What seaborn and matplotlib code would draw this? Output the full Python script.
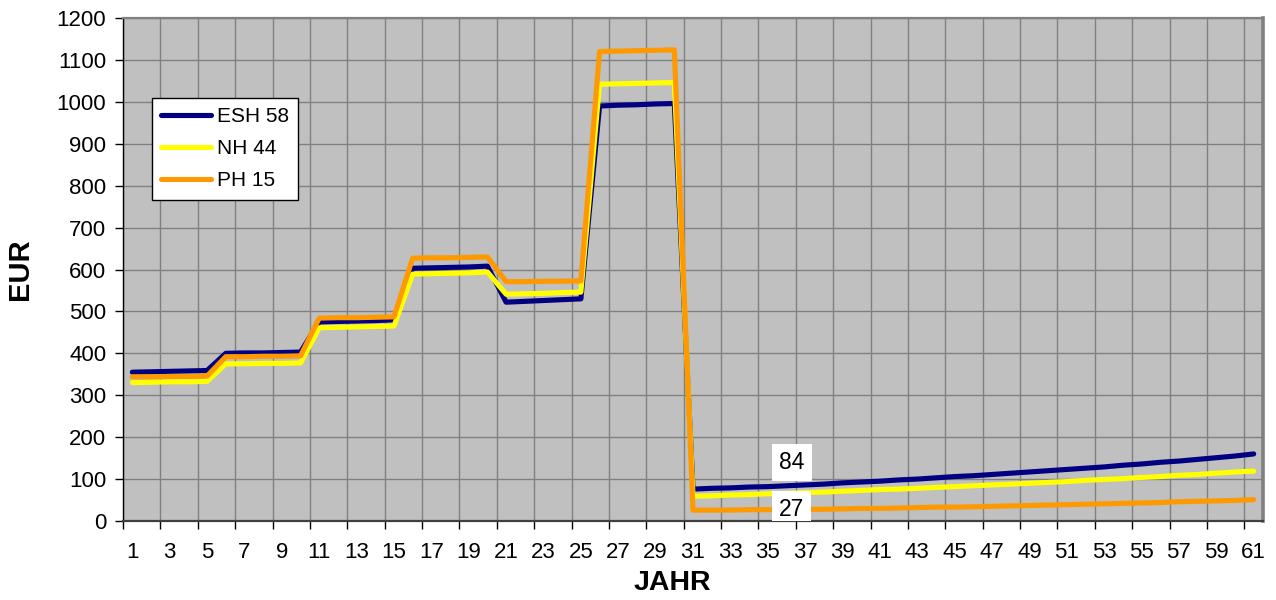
import matplotlib
matplotlib.use("Agg")
import matplotlib.pyplot as plt
from matplotlib.lines import Line2D
import pandas as pd
import seaborn as sns

# ---------------- data ----------------
years = list(range(1, 62))
series_names = ["ESH 58", "NH 44", "PH 15"]
series_colors = ["#000080", "#FFFF00", "#FF9900"]

esh = [355, 356, 357, 358, 359, 400, 401, 401, 402, 403,
       475, 476, 477, 478, 480, 603, 604, 605, 606, 608,
       522, 524, 526, 528, 530, 990, 992, 993, 995, 996,
       76, 78, 79, 81, 82, 84, 86, 88, 91, 93,
       95, 98, 100, 103, 106, 108, 111, 114, 117, 120,
       123, 126, 129, 133, 136, 140, 143, 147, 151, 155, 160]
nh = [330, 331, 332, 332, 333, 375, 375, 376, 376, 377,
      461, 462, 463, 464, 465, 589, 590, 591, 592, 594,
      541, 542, 543, 545, 546, 1042, 1043, 1044, 1045, 1046,
      59, 60, 62, 63, 65, 66, 68, 69, 71, 73,
      75, 76, 78, 80, 82, 84, 86, 88, 90, 92,
      94, 97, 99, 101, 104, 106, 109, 111, 114, 117, 119]
ph = [344, 344, 345, 345, 346, 392, 392, 393, 393, 394,
      484, 485, 485, 486, 487, 627, 628, 628, 629, 630,
      571, 571, 572, 572, 573, 1120, 1121, 1122, 1123, 1124,
      26, 26, 26, 27, 27, 27, 28, 28, 29, 30,
      30, 31, 32, 33, 33, 34, 35, 36, 37, 38,
      39, 40, 41, 42, 43, 44, 46, 47, 48, 49, 51]

label_year = 36          # year whose values carry data labels
y_ticks = list(range(0, 1201, 100))
x_tick_labels = list(range(1, 62, 2))

df = pd.DataFrame({
    "JAHR": years * 3,
    "EUR": esh + nh + ph,
    "Serie": [n for n in series_names for _ in years],
})

# ---------------- style ----------------
sns.set_style("white")
plt.rcParams["font.family"] = ["Liberation Sans", "DejaVu Sans"]
plt.rcParams["text.color"] = "black"
plt.rcParams["axes.labelcolor"] = "black"
plt.rcParams["xtick.color"] = "black"
plt.rcParams["ytick.color"] = "black"

W, H = 1276, 600
fig = plt.figure(figsize=(W / 100, H / 100), dpi=100)
left, right, top, bottom = 123, 1263, 18, 521
ax = fig.add_axes([left / W, 1 - bottom / H, (right - left) / W, (bottom - top) / H])
ax.set_facecolor("#C0C0C0")

sns.lineplot(data=df, x="JAHR", y="EUR", hue="Serie", hue_order=series_names,
             palette=series_colors, linewidth=3.7, ax=ax, legend=False,
             solid_joinstyle="round", solid_capstyle="round")

# axes limits / ticks
ax.set_xlim(0.5, 61.5)
ax.set_ylim(0, 1200)
ax.set_yticks(y_ticks)
ax.set_yticklabels([str(v) for v in y_ticks])
ax.set_xticks([x + 0.5 for x in range(0, 61, 2)])
ax.set_xticklabels([])
ax.set_xticks(x_tick_labels, minor=True)
ax.set_xticklabels([str(v) for v in x_tick_labels], minor=True)

ax.tick_params(axis="y", which="major", direction="out", length=6, width=1,
               color="black", labelcolor="black", labelsize=16, pad=6, left=True)
ax.tick_params(axis="x", which="major", direction="out", length=6, width=1,
               color="black", bottom=True)
ax.tick_params(axis="x", which="minor", length=0, labelsize=16, pad=15,
               labelcolor="black", bottom=True)

ax.grid(True, which="major", color="#808080", linewidth=1.0)
ax.set_axisbelow(True)

ax.spines["left"].set_color("black")
ax.spines["left"].set_linewidth(1.0)
ax.spines["bottom"].set_color("#404040")
ax.spines["bottom"].set_linewidth(1.6)
ax.spines["top"].set_color("#808080")
ax.spines["top"].set_linewidth(1.6)
ax.spines["right"].set_color("#808080")
ax.spines["right"].set_linewidth(2.6)

# axis labels
ax.set_xlabel("JAHR", fontsize=20.5, fontweight="bold", color="black")
ax.set_ylabel("EUR", fontsize=21, fontweight="bold", color="black")
ax.xaxis.set_label_coords((672 - left) / (right - left), (bottom - 570) / (bottom - top))
ax.xaxis.label.set_va("top")
ax.yaxis.set_label_coords((34 - left) / (right - left), 0.5)

# legend
handles = [Line2D([0], [0], color=c, linewidth=3.7, solid_capstyle="round")
           for c in series_colors]
leg = ax.legend(handles, series_names, loc="upper left",
                bbox_to_anchor=((152 - left) / (right - left), (bottom - 98) / (bottom - top)),
                fontsize=15, frameon=True, fancybox=False, framealpha=1,
                edgecolor="black", facecolor="white", handlelength=2.4,
                handletextpad=0.25, labelspacing=0.62, borderpad=0.45,
                borderaxespad=0)
leg.get_frame().set_linewidth(1.0)
for t in leg.get_texts():
    t.set_color("black")

# data labels
idx = years.index(label_year)
ax.annotate(str(esh[idx]), xy=(label_year, esh[idx]), xytext=(4, 17),
            textcoords="offset points", ha="center", va="center", fontsize=16.5,
            color="black",
            bbox=dict(boxstyle="square,pad=0.3", fc="white", ec="none"),
            zorder=6, clip_on=True)
ax.annotate(str(ph[idx]), xy=(label_year, ph[idx]), xytext=(4, 0),
            textcoords="offset points", ha="center", va="center", fontsize=16.5,
            color="black",
            bbox=dict(boxstyle="square,pad=0.3", fc="white", ec="none"),
            zorder=6, clip_on=True)

fig.savefig("out.png", dpi=100, facecolor="white")
